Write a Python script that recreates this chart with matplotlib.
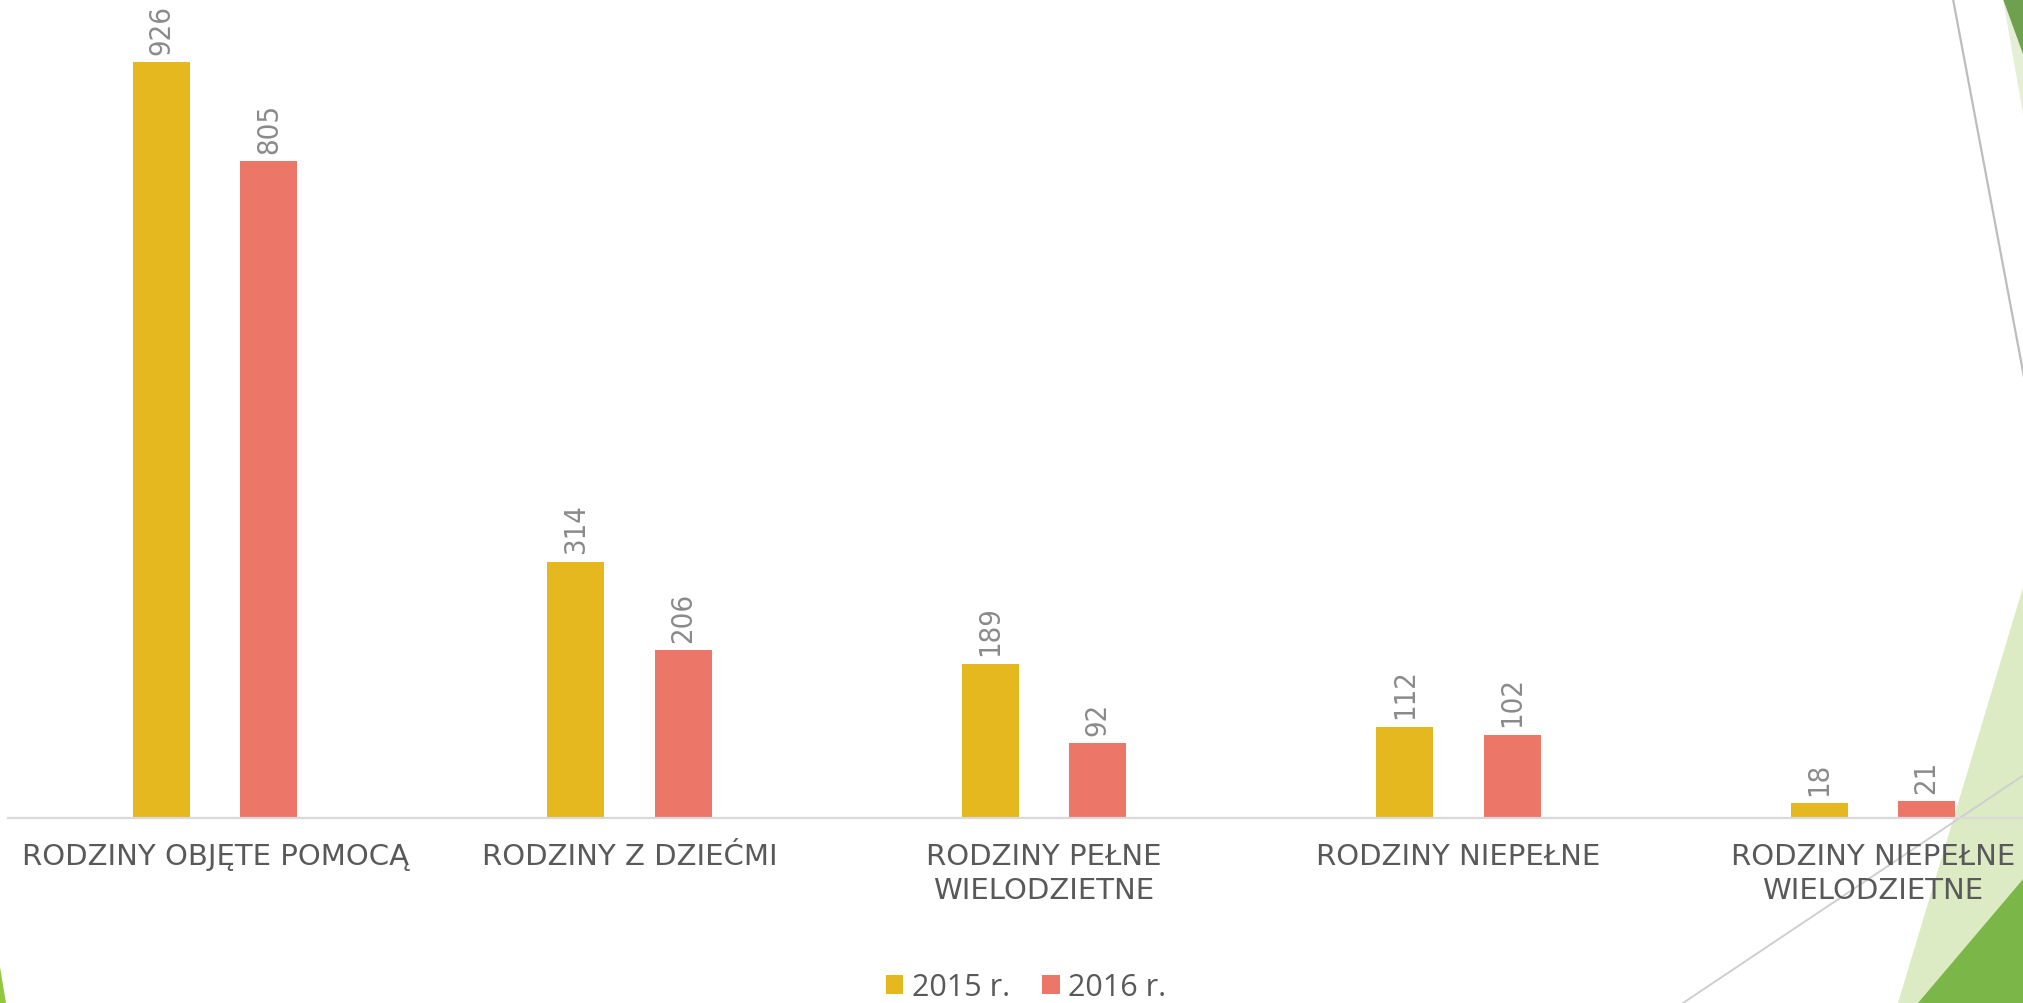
import matplotlib
matplotlib.use('Agg')
import matplotlib.pyplot as plt
from matplotlib.patches import Polygon
from matplotlib.lines import Line2D
from matplotlib.transforms import blended_transform_factory
import numpy as np

categories = ["RODZINY OBJĘTE POMOCĄ", "RODZINY Z DZIEĆMI",
              "RODZINY PEŁNE\nWIELODZIETNE", "RODZINY NIEPEŁNE",
              "RODZINY NIEPEŁNE\nWIELODZIETNE"]
series_names = ["2015 r.", "2016 r."]
values_2015 = [926, 314, 189, 112, 18]
values_2016 = [805, 206, 92, 102, 21]

W, H = 2023, 1004
fig = plt.figure(figsize=(W / 100, H / 100), dpi=100)
fig.patch.set_facecolor('white')


def P(x, y):
    return (x / W, 1 - y / H)


def poly(pts, color, z):
    fig.patches.append(Polygon([P(*p) for p in pts], closed=True,
                               facecolor=color, edgecolor='none',
                               transform=fig.transFigure, zorder=z))


def line(p1, p2, color, lw, z):
    a, b = P(*p1), P(*p2)
    fig.add_artist(Line2D([a[0], b[0]], [a[1], b[1]], color=color, lw=lw,
                          transform=fig.transFigure, zorder=z))


# background decorations (theme shapes)
poly([(2003, 0), (2030, 0), (2030, 115), (2023, 115)], '#E5EFD6', 0)
poly([(2003, 0), (2030, 0), (2030, 55), (2023, 55)], '#6FA050', 0.2)
line((1953, 0), (2030, 410), '#BDBDBD', 1.6, 0.3)
poly([(2030, 565), (1898, 1004), (2030, 1004)], '#DDEBC4', 0)
line((1683, 1004), (2030, 772), '#CFCFCF', 1.4, 0.1)
poly([(2030, 872), (1918, 1004), (2030, 1004)], '#7AB648', 0.2)
poly([(0, 968), (6, 1004), (0, 1004)], '#92C83E', 0.2)

# axes (extends past the right edge like the source slide)
cat_w = 414.4
ax = fig.add_axes([8 / W, 185 / H, 5 * cat_w / W, 816.3 / H])
ax.patch.set_alpha(0)
ax.set_zorder(1)

x = np.arange(len(categories))
bw = 0.1375
off = 0.1297
c15, c16 = '#E4B81E', '#EC7667'
b1 = ax.bar(x - off, values_2015, bw, color=c15, label=series_names[0])
b2 = ax.bar(x + off, values_2016, bw, color=c16, label=series_names[1])
ax.set_xlim(-0.5, len(categories) - 0.5)
ax.set_ylim(0, 1000)

for s in ['top', 'right', 'left']:
    ax.spines[s].set_visible(False)
ax.spines['bottom'].set_color('#D9D9D9')
ax.spines['bottom'].set_linewidth(1.6)
ax.set_xticks([])
ax.set_yticks([])

for bars, vals in ((b1, values_2015), (b2, values_2016)):
    for r, v in zip(bars, vals):
        ax.annotate(str(v), (r.get_x() + r.get_width() / 2, v),
                    xytext=(0, 6), textcoords='offset points',
                    rotation=90, ha='center', va='bottom', fontsize=21,
                    color='#8A8A8A', family='DejaVu Sans',
                    fontstretch='condensed', annotation_clip=False)

tr = blended_transform_factory(ax.transData, fig.transFigure)
pitch = 34
for i, c in enumerate(categories):
    nl = c.count('\n')
    ax.text(i, 1 - (865 + nl * pitch) / H, c, transform=tr, ha='center',
            va='baseline', multialignment='center', fontsize=21,
            color='#595959', family='DejaVu Sans', linespacing=1.27,
            clip_on=False)

fig.legend(handles=[b1, b2], labels=series_names, loc='center',
           bbox_to_anchor=(1026 / W, 1 - 988 / H), ncol=2, frameon=False,
           prop={'family': 'Open Sans', 'size': 22}, labelcolor='#595959',
           handlelength=0.58, handleheight=0.58, handletextpad=0.28,
           columnspacing=1.05, borderpad=0, borderaxespad=0)

fig.savefig('out.png', dpi=100, facecolor='white')
